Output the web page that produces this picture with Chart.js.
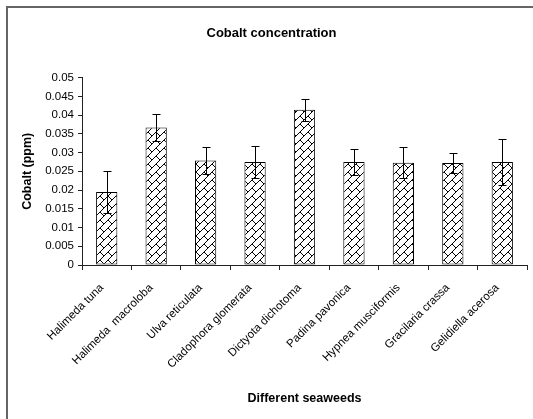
<!DOCTYPE html>
<html>
<head>
<meta charset="utf-8">
<script src="https://cdn.jsdelivr.net/npm/chart.js@4"></script>
<style>
  html, body { margin: 0; padding: 0; background: #fff; }
  #wrap { position: relative; width: 533px; height: 419px; }
</style>
</head>
<body>
<div id="wrap"><canvas id="c" width="533" height="419"></canvas></div>
<script>
// Seaweed species sampled
const species = [
  'Halimeda tuna',
  'Halimeda  macroloba',
  'Ulva reticulata',
  'Cladophora glomerata',
  'Dictyota dichotoma',
  'Padina pavonica',
  'Hypnea musciformis',
  'Gracilaria crassa',
  'Gelidiella acerosa'
];
// Mean cobalt concentration (ppm)
const cobaltMean = [0.0195, 0.0367, 0.0279, 0.0275, 0.0414, 0.0275, 0.0273, 0.0272, 0.0275];
// Standard deviation (ppm)
const cobaltSD = [0.0055, 0.0037, 0.0036, 0.0042, 0.0029, 0.0035, 0.0042, 0.0026, 0.0061];
// Y-axis tick labels
const yTickLabels = ['0', '0.005', '0.01', '0.015', '0.02', '0.025', '0.03', '0.035', '0.04', '0.045', '0.05'];

const ctx = document.getElementById('c').getContext('2d');

// Diagonal brick hatch (8x8 tile)
const hatch = ctx.createPattern((() => {
  const t = document.createElement('canvas');
  t.width = 8; t.height = 8;
  const g = t.getContext('2d');
  g.fillStyle = '#fff';
  g.fillRect(0, 0, 8, 8);
  g.fillStyle = '#000';
  const rows = [0x01, 0x02, 0x04, 0x08, 0x18, 0x24, 0x42, 0x81];
  rows.forEach((bits, y) => {
    for (let x = 0; x < 8; x++) {
      if (bits & (1 << x)) g.fillRect(7 - x, y, 1, 1);
    }
  });
  return t;
})(), 'repeat');

// Outer frame (top and left edges) drawn behind the chart
const framePlugin = {
  id: 'frame',
  beforeDraw(chart) {
    const c = chart.ctx;
    c.save();
    c.fillStyle = '#fff';
    c.fillRect(0, 0, chart.width, chart.height);
    c.fillStyle = '#666';
    c.fillRect(6, 6, chart.width - 6, 2);
    c.fillRect(6, 6, 2, chart.height - 6);
    c.restore();
  }
};

// Error bars (mean ± SD) drawn through the chart's own scales
const errorBarPlugin = {
  id: 'errorBars',
  afterDatasetsDraw(chart) {
    const meta = chart.getDatasetMeta(0);
    const y = chart.scales.y;
    const c = chart.ctx;
    c.save();
    c.strokeStyle = '#000';
    c.lineWidth = 1;
    meta.data.forEach((bar, i) => {
      const x = Math.round(bar.x) + 0.5;
      const top = Math.round(y.getPixelForValue(cobaltMean[i] + cobaltSD[i])) + 0.5;
      const bot = Math.round(y.getPixelForValue(cobaltMean[i] - cobaltSD[i])) + 0.5;
      c.beginPath();
      c.moveTo(x, top); c.lineTo(x, bot);
      c.moveTo(x - 4, top); c.lineTo(x + 4, top);
      c.moveTo(x - 4, bot); c.lineTo(x + 4, bot);
      c.stroke();
    });
    c.restore();
  }
};

Chart.defaults.font.family = '"Liberation Sans", Arial, sans-serif';
Chart.defaults.color = '#000';

new Chart(ctx, {
  type: 'bar',
  data: {
    labels: species,
    datasets: [{
      data: cobaltMean,
      backgroundColor: hatch,
      borderColor: '#000',
      borderWidth: 1,
      borderSkipped: false,
      categoryPercentage: 1,
      barPercentage: 0.43
    }]
  },
  options: {
    responsive: false,
    animation: false,
    layout: { padding: { left: 16, right: 6, top: 0, bottom: 9 } },
    plugins: {
      legend: { display: false },
      tooltip: { enabled: false },
      title: {
        display: true,
        text: 'Cobalt concentration',
        font: { size: 13, weight: 'bold' },
        color: '#000',
        padding: { top: 26, bottom: 36 }
      }
    },
    scales: {
      x: {
        grid: { drawOnChartArea: false, drawTicks: true, tickLength: 5, color: '#222', offset: true },
        border: { display: true, color: '#222', width: 1 },
        ticks: {
          font: { size: 11.5 },
          color: '#000',
          minRotation: 45,
          maxRotation: 45,
          autoSkip: false,
          padding: 11,
          labelOffset: -5
        },
        title: {
          display: true,
          text: 'Different seaweeds',
          font: { size: 12.5, weight: 'bold' },
          color: '#000',
          padding: { top: 4, bottom: 4 }
        },
        afterFit(scale) { scale.height = 145; }
      },
      y: {
        min: 0,
        max: 0.05,
        grid: { drawOnChartArea: false, drawTicks: true, tickLength: 4, color: '#222' },
        border: { display: true, color: '#222', width: 1 },
        ticks: {
          stepSize: 0.005,
          font: { size: 11.5 },
          color: '#000',
          padding: 4,
          callback: (v, i) => yTickLabels[i]
        },
        title: {
          display: true,
          text: 'Cobalt (ppm)',
          font: { size: 12.5, weight: 'bold' },
          color: '#000',
          padding: { top: 4, bottom: 4 }
        },
        afterFit(scale) { scale.width = 66; }
      }
    }
  },
  plugins: [framePlugin, errorBarPlugin]
});
</script>
</body>
</html>
